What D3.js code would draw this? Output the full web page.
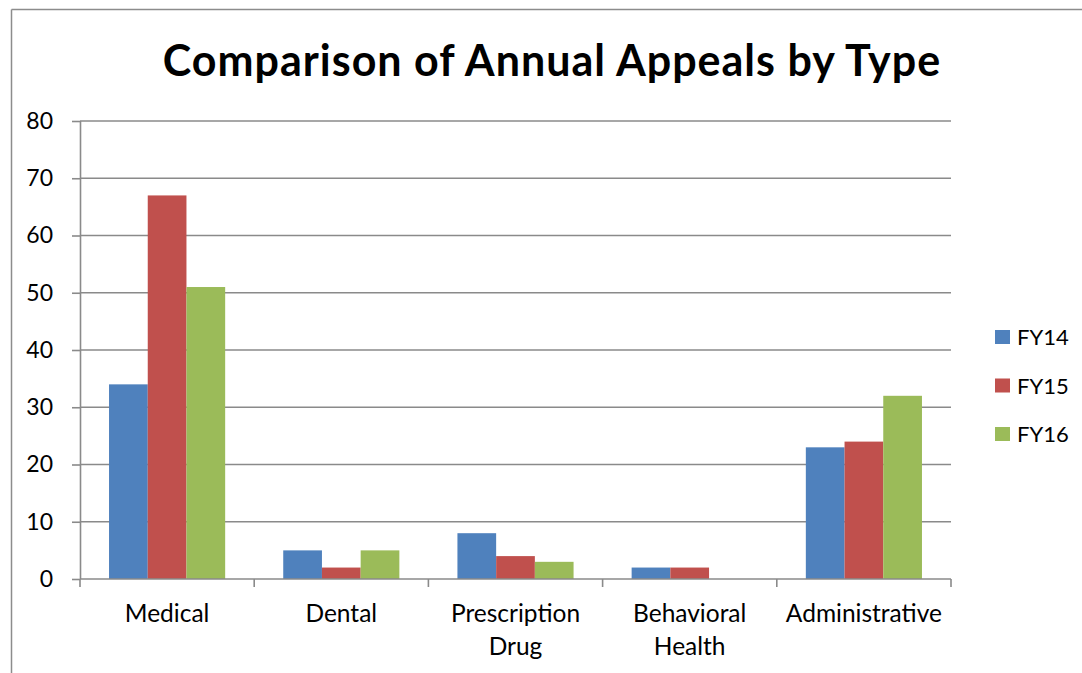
<!DOCTYPE html>
<html>
<head>
<meta charset="utf-8">
<script src="https://cdn.jsdelivr.net/npm/d3@7"></script>
<style>
  html, body { margin: 0; padding: 0; background: #fff; }
  svg { display: block; }
</style>
</head>
<body>
<svg id="chart" width="1082" height="673"></svg>
<script>
// Appeal counts per type, one array per fiscal year
const categories = ["Medical", "Dental", "Prescription Drug", "Behavioral Health", "Administrative"];
const categoryLines = [["Medical"], ["Dental"], ["Prescription", "Drug"], ["Behavioral", "Health"], ["Administrative"]];
const seriesNames = ["FY14", "FY15", "FY16"];
const fy14 = [34, 5, 8, 2, 23];
const fy15 = [67, 2, 4, 2, 24];
const fy16 = [51, 5, 3, 0, 32];
const yTicks = [0, 10, 20, 30, 40, 50, 60, 70, 80];
const colors = ["#4F81BD", "#C0504D", "#9BBB59"];
const seriesValues = [fy14, fy15, fy16];

const svg = d3.select("#chart");
const font = "Lato, 'Open Sans', sans-serif";

// Outer frame (top and left edges)
svg.append("line").attr("x1", 11.5).attr("x2", 1082).attr("y1", 9.5).attr("y2", 9.5)
  .attr("stroke", "#8c8c8c").attr("stroke-width", 1.5);
svg.append("line").attr("x1", 11.5).attr("x2", 11.5).attr("y1", 9.5).attr("y2", 673)
  .attr("stroke", "#8c8c8c").attr("stroke-width", 1.5);

const plot = { left: 80, right: 951, top: 121, bottom: 579 };

const x = d3.scaleBand().domain(categories).range([plot.left, plot.right]).paddingInner(0).paddingOuter(0);
// Three bars plus a 150% gap per category
const xs = d3.scaleBand().domain(seriesNames).range([0, x.bandwidth()]).paddingInner(0).paddingOuter(0.75);
const y = d3.scaleLinear().domain([0, 80]).range([plot.bottom, plot.top]);

// Gridlines
svg.append("g").selectAll("line").data(yTicks.filter(d => d > 0)).join("line")
  .attr("x1", plot.left).attr("x2", plot.right)
  .attr("y1", d => y(d)).attr("y2", d => y(d))
  .attr("stroke", "#8a8a8a").attr("stroke-width", 1.6);

// Bars
const groups = svg.append("g").selectAll("g").data(categories).join("g")
  .attr("transform", d => `translate(${x(d)},0)`);
groups.selectAll("rect").data((c, i) => seriesNames.map((s, j) => ({ s, j, v: seriesValues[j][i] })))
  .join("rect")
  .attr("x", d => xs(d.s))
  .attr("width", xs.bandwidth())
  .attr("y", d => y(d.v))
  .attr("height", d => y(0) - y(d.v))
  .attr("fill", d => colors[d.j]);

// Y axis
const yAxis = d3.axisLeft(y).tickValues(yTicks).tickSize(8).tickPadding(19);
const gy = svg.append("g").attr("transform", `translate(${plot.left},0)`).call(yAxis);
gy.select(".domain").attr("stroke", "#8a8a8a").attr("stroke-width", 1.6).attr("d", `M0.5,${plot.top}V${plot.bottom}`);
gy.selectAll(".tick line").attr("stroke", "#8a8a8a").attr("stroke-width", 1.6);
gy.selectAll(".tick text").attr("font-family", font).attr("font-size", 23).attr("fill", "#000");

// X axis with ticks at category boundaries
const gx = svg.append("g").attr("transform", `translate(0,${plot.bottom})`);
gx.append("line").attr("x1", plot.left).attr("x2", plot.right).attr("y1", 0).attr("y2", 0)
  .attr("stroke", "#8a8a8a").attr("stroke-width", 1.6);
const bounds = categories.map(c => x(c)).concat([plot.right]);
gx.selectAll("line.tk").data(bounds).join("line").attr("class", "tk")
  .attr("x1", d => d).attr("x2", d => d).attr("y1", 0).attr("y2", 8)
  .attr("stroke", "#8a8a8a").attr("stroke-width", 1.6);
const labels = gx.selectAll("text").data(categories).join("text")
  .attr("x", d => x(d) + x.bandwidth() / 2)
  .attr("text-anchor", "middle")
  .attr("font-family", font).attr("font-size", 24.5).attr("fill", "#000");
labels.selectAll("tspan").data((d, i) => categoryLines[i].map((t, k) => ({ t, k, c: d })))
  .join("tspan")
  .attr("x", d => x(d.c) + x.bandwidth() / 2)
  .attr("y", d => 43 + d.k * 33)
  .text(d => d.t);

// Title
svg.append("text").attr("x", 552).attr("y", 76).attr("text-anchor", "middle")
  .attr("font-family", font).attr("font-weight", "bold").attr("font-size", 43)
  .attr("letter-spacing", 1).attr("fill", "#000")
  .text("Comparison of Annual Appeals by Type");

// Legend
const legend = svg.append("g").selectAll("g").data(seriesNames).join("g")
  .attr("transform", (d, i) => `translate(995,${330 + i * 48.5})`);
legend.append("rect").attr("width", 15).attr("height", 14).attr("fill", (d, i) => colors[i]);
legend.append("text").attr("x", 22).attr("y", 15)
  .attr("font-family", font).attr("font-size", 22).attr("fill", "#000").text(d => d);
</script>
</body>
</html>
